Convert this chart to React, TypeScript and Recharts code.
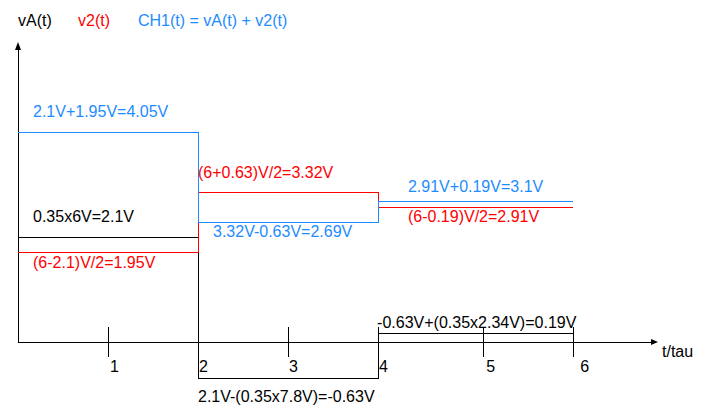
import { LineChart, Line, XAxis, YAxis, ReferenceLine, ReferenceDot, Legend } from 'recharts';

// step times (t/tau) and the levels of each trace, as drawn
const times = [0, 2, 4, 6.17];
const vA = [2.1, -0.72, 0.18, 0.18];
const v2 = [1.8, 3.0, 2.7, 2.7];
const ch1 = [4.2, 2.4, 2.82, 2.82];

const seriesKeys = ['vA', 'v2', 'ch1'];
const seriesNames = ['vA(t)', 'v2(t)', 'CH1(t) = vA(t) + v2(t)'];
const seriesColors = ['#000000', '#ff0000', '#1e8cff'];

const tickPositions = [1, 2, 3, 4, 5.17, 6.17];
const tickLabels = ['1', '2', '3', '4', '5', '6'];

// annotations: text, anchor (t, value) and which trace colour they use
const noteTexts = [
  '2.1V+1.95V=4.05V',
  '0.35x6V=2.1V',
  '(6-2.1)V/2=1.95V',
  '(6+0.63)V/2=3.32V',
  '3.32V-0.63V=2.69V',
  '2.91V+0.19V=3.1V',
  '(6-0.19)V/2=2.91V',
  '2.1V-(0.35x7.8V)=-0.63V',
  '-0.63V+(0.35x2.34V)=0.19V',
];
const noteT = [0.167, 0.167, 0.167, 2.0, 2.167, 4.333, 4.333, 2.0, 3.99];
const noteV = [4.5, 2.4, 1.48, 3.28, 2.1, 3.0, 2.4, -1.2, 0.28];
const noteSeries = [2, 0, 1, 1, 2, 2, 1, 0, 0];

const xLabel = 't/tau';

const data = times.map((t, i) => ({ t, vA: vA[i], v2: v2[i], ch1: ch1[i] }));

const FONT = '"Liberation Sans", Arial, sans-serif';
// small horizontal nudges of the tick numbers, as in the sketch
const tickLabelDx = [2, 1, 1, 1, 3, 7];

const AxisX = (p: any) => {
  const { x1, x2, y1 } = p;
  return (
    <g>
      <line x1={x1} y1={y1} x2={x2 - 4} y2={y1} stroke="#000" strokeWidth={1} shapeRendering="crispEdges" />
      <polygon points={`${x2},${y1} ${x2 - 7},${y1 - 3} ${x2 - 7},${y1 + 3}`} fill="#000" />
      <text x={x2 + 4} y={y1 + 15} fontFamily={FONT} fontSize={16} fill="#000">{xLabel}</text>
    </g>
  );
};

const AxisY = (p: any) => {
  const { x1, y1, y2 } = p;
  return (
    <g>
      <line x1={x1} y1={y1} x2={x1} y2={y2 + 4} stroke="#000" strokeWidth={1} shapeRendering="crispEdges" />
      <polygon points={`${x1},${y2} ${x1 - 3},${y2 + 8} ${x1 + 3},${y2 + 8}`} fill="#000" />
    </g>
  );
};

const makeTick = (label: string, dx: number) => (p: any) => {
  const { x1, y1, y2 } = p;
  const bottom = Math.max(y1, y2);
  return (
    <g>
      <line x1={x1} y1={y1} x2={x1} y2={y2} stroke="#000" strokeWidth={1} shapeRendering="crispEdges" />
      <text x={x1 + dx} y={bottom + 15} fontFamily={FONT} fontSize={16} fill="#000">{label}</text>
    </g>
  );
};

const makeNote = (text: string, color: string) => (p: any) => (
  <text x={p.cx} y={p.cy} fontFamily={FONT} fontSize={16} fill={color}>{text}</text>
);

const LegendRow = () => (
  <div style={{ position: 'relative', height: 18, lineHeight: '18px', fontFamily: FONT, fontSize: 16 }}>
    {seriesNames.map((name, idx) => (
      <span key={idx} style={{ position: 'absolute', left: idx * 60, color: seriesColors[idx], whiteSpace: 'nowrap' }}>
        {name}
      </span>
    ))}
  </div>
);

export default function App() {
  return (
    <div style={{ position: 'absolute', left: 0, top: 0, background: '#fff' }}>
      <LineChart width={707} height={420} data={data} margin={{ top: 42, right: 49, bottom: 3, left: 18 }}>
        <XAxis dataKey="t" type="number" domain={[0, 64 / 9]} hide />
        <YAxis type="number" domain={[-1.5, 6]} hide />
        <Legend
          layout="vertical"
          align="center"
          verticalAlign="middle"
          wrapperStyle={{ top: 12, left: 18, width: 400 }}
          content={<LegendRow />}
        />
        <ReferenceLine y={0} shape={AxisX} />
        <ReferenceLine segment={[{ x: 0, y: 0 }, { x: 0, y: 6 }]} shape={AxisY} />
        {tickPositions.map((pos, i) => (
          <ReferenceLine
            key={`tick-${i}`}
            segment={[{ x: pos, y: -0.3 }, { x: pos, y: 0.3 }]}
            shape={makeTick(tickLabels[i], tickLabelDx[i])}
          />
        ))}
        {seriesKeys.map((key, i) => (
          <Line
            key={key}
            type="stepAfter"
            dataKey={key}
            name={seriesNames[i]}
            stroke={seriesColors[i]}
            strokeWidth={1}
            dot={false}
            activeDot={false}
            shapeRendering="crispEdges"
            isAnimationActive={false}
          />
        ))}
        {noteTexts.map((text, i) => (
          <ReferenceDot
            key={`note-${i}`}
            x={noteT[i]}
            y={noteV[i]}
            r={0}
            shape={makeNote(text, seriesColors[noteSeries[i]])}
          />
        ))}
      </LineChart>
    </div>
  );
}
